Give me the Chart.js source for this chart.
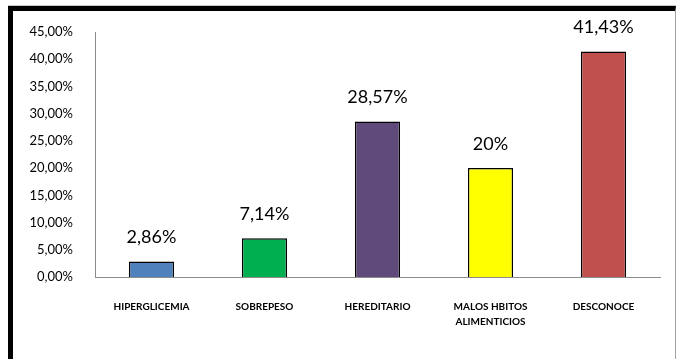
<!DOCTYPE html>
<html lang="es">
<head>
    <meta charset="UTF-8">
    <title>Causas</title>
    <script src="https://cdn.jsdelivr.net/npm/chart.js"></script>
    <style>
        html, body { margin: 0; padding: 0; background: #fff; overflow: hidden; }
        #wrap { position: relative; width: 680px; height: 359px; }
        #frame {
            position: absolute; left: 8px; top: 6px; width: 662px; height: 370px;
            border-left: 5px solid #000; border-top: 5px solid #000; border-right: 1px solid #a0a0a0;
            box-shadow: 0 -1px 0 #c8c8c8; pointer-events: none;
        }
    </style>
</head>
<body>
<div id="wrap">
    <canvas id="chart" width="680" height="359"></canvas>
    <div id="frame"></div>
</div>
<script>
    const categories = ['HIPERGLICEMIA', 'SOBREPESO', 'HEREDITARIO', ['MALOS HBITOS', 'ALIMENTICIOS'], 'DESCONOCE'];
    const values = [2.86, 7.14, 28.57, 20, 41.43];
    const barColors = ['#4F81BD', '#00B050', '#604A7B', '#FFFF00', '#C0504D'];
    const yTicks = [0, 5, 10, 15, 20, 25, 30, 35, 40, 45];

    const labelFont = "'Lato', 'Open Sans', sans-serif";

    function fmt(v, dec) {
        return v.toFixed(dec).replace('.', ',') + '%';
    }

    // value text above each bar
    const valueLabels = {
        id: 'valueLabels',
        afterDatasetsDraw(chart) {
            const ctx = chart.ctx;
            const meta = chart.getDatasetMeta(0);
            ctx.save();
            ctx.font = '18px ' + labelFont;
            ctx.fillStyle = '#000';
            ctx.textAlign = 'center';
            ctx.textBaseline = 'middle';
            meta.data.forEach((bar, i) => {
                const v = values[i];
                const txt = Number.isInteger(v) ? v + '%' : fmt(v, 2);
                ctx.fillText(txt, bar.x, bar.y - 24);
            });
            ctx.restore();
        }
    };

    new Chart(document.getElementById('chart'), {
        type: 'bar',
        data: {
            labels: categories,
            datasets: [{
                data: values,
                backgroundColor: barColors,
                borderColor: '#000',
                borderWidth: 1.5,
                borderSkipped: 'bottom',
                barPercentage: 0.4,
                categoryPercentage: 1
            }]
        },
        options: {
            responsive: false,
            animation: false,
            layout: { padding: { top: 32, right: 20, left: 0, bottom: 0 } },
            plugins: { legend: { display: false }, tooltip: { enabled: false } },
            scales: {
                y: {
                    min: 0,
                    max: 45,
                    afterFit(scale) { scale.width = 95; },
                    afterBuildTicks(scale) { scale.ticks = yTicks.map(v => ({ value: v })); },
                    grid: { display: false, drawTicks: false },
                    border: { display: true, color: '#8c8c8c', width: 1 },
                    ticks: {
                        padding: 22,
                        color: '#000',
                        font: { family: labelFont, size: 13 },
                        callback: v => fmt(v, 2)
                    }
                },
                x: {
                    afterFit(scale) { scale.height = 82; },
                    grid: { display: false, drawTicks: false },
                    border: { display: true, color: '#8c8c8c', width: 1 },
                    ticks: {
                        padding: 22,
                        color: '#000',
                        maxRotation: 0,
                        autoSkip: false,
                        font: { family: labelFont, size: 10, weight: 'bold', lineHeight: 1.5 }
                    }
                }
            }
        },
        plugins: [valueLabels]
    });
</script>
</body>
</html>
